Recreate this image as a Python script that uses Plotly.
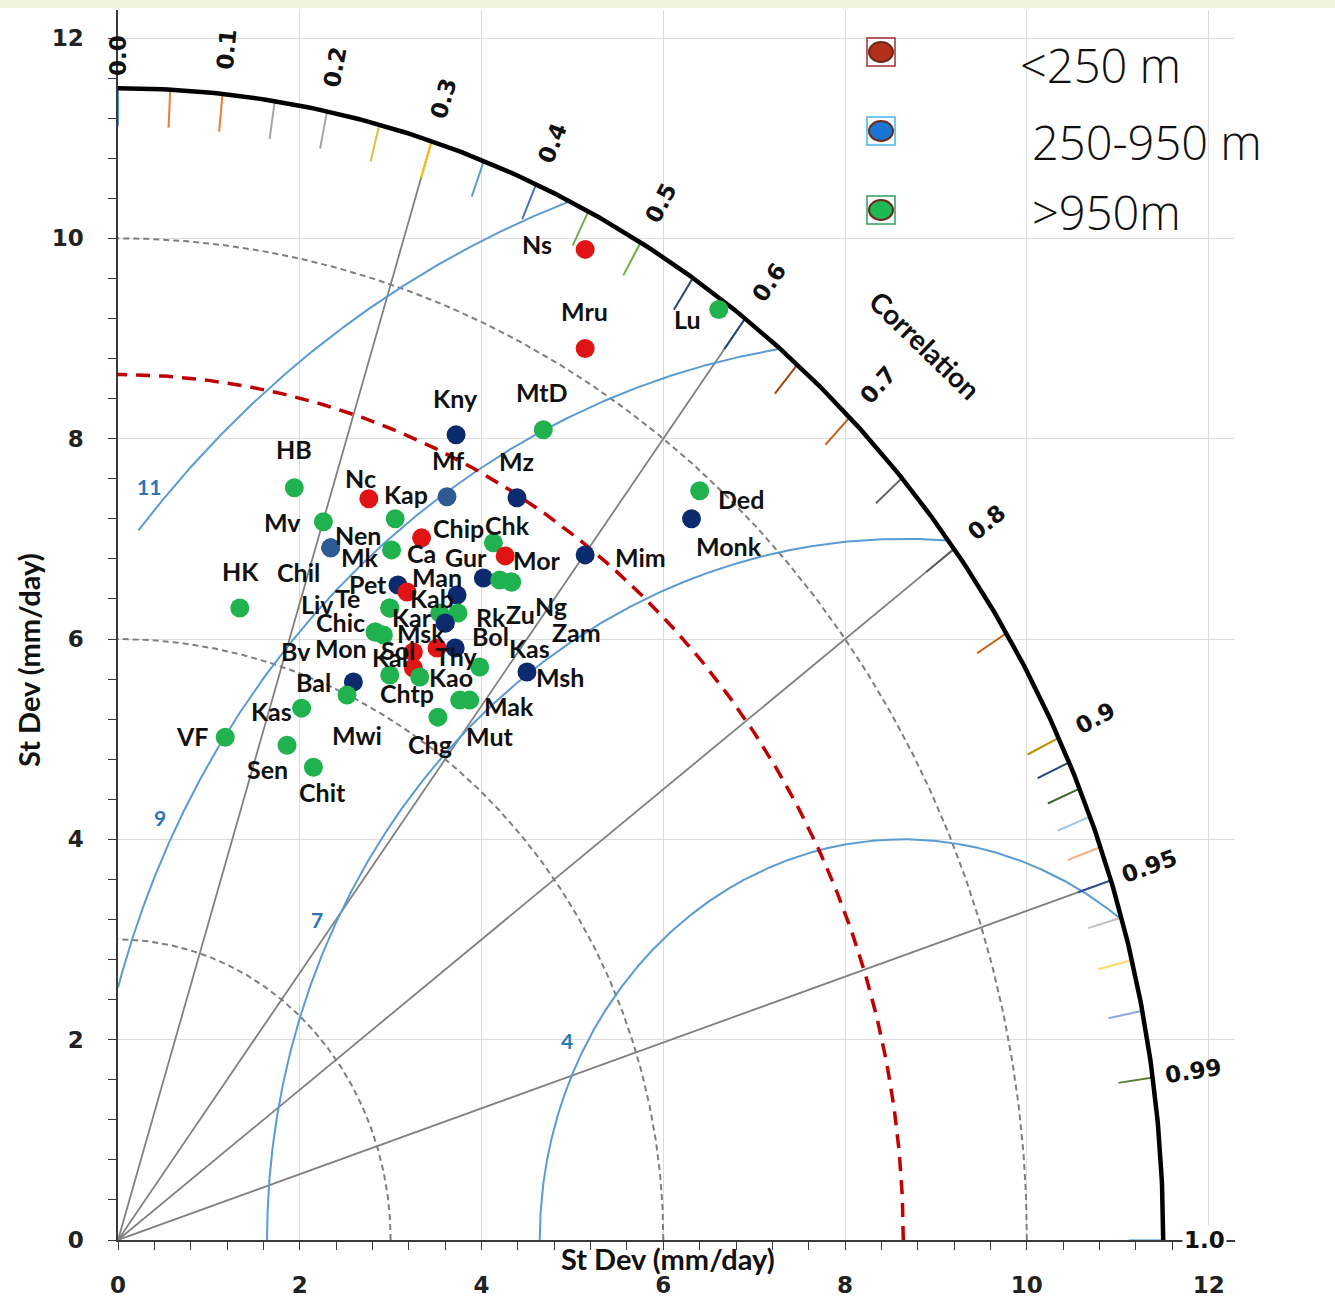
import numpy as np
import plotly.graph_objects as go

# ---------------- data ----------------
stations = ["Chil", "Liv", "Bv", "Msk", "Zam", "Ns", "Mru", "Lu", "Kny", "MtD", "HB", "Mf", "Mz", "Nc",
            "Kap", "Ded", "Monk", "Mv", "Nen", "Chk", "Chip", "Mk", "Mim", "Gur", "Zu", "Ng", "Mor",
            "HK", "Pet", "Ca", "Man", "Te", "Kab", "Rk", "Kar", "Chic", "Mon", "Bol", "Thy", "Sol",
            "Kal", "Chtp", "Kao", "Kas", "Msh", "Bal", "Mwi", "Kas", "Mut", "Mak", "Chg", "VF", "Sen", "Chit"]
# standard deviation components (mm/day): x = sd*corr, y = sd*sqrt(1-corr^2)
sd_x = [2.34, 2.99, 2.83, 3.60, 4.33, 5.14, 5.14, 6.61, 3.72, 4.68, 1.94, 3.62, 4.39, 2.76,
        3.05, 6.40, 6.31, 2.26, 2.34, 4.13, 3.34, 3.01, 5.14, 4.02, 4.20, 4.33, 4.26,
        1.34, 3.08, 3.18, 3.73, 2.99, 3.54, 3.74, 3.60, 2.83, 2.92, 3.71, 3.51, 3.25,
        3.25, 2.99, 3.32, 3.98, 4.50, 2.59, 2.52, 2.02, 3.76, 3.87, 3.52, 1.18, 1.86, 2.15]
sd_y = [6.91, 6.31, 6.07, 6.16, 6.57, 9.89, 8.90, 9.29, 8.04, 8.09, 7.51, 7.42, 7.41, 7.40,
        7.20, 7.48, 7.20, 7.17, 6.91, 6.96, 7.01, 6.89, 6.84, 6.61, 6.59, 6.57, 6.83,
        6.31, 6.54, 6.47, 6.44, 6.31, 6.26, 6.26, 6.16, 6.07, 6.04, 5.91, 5.91, 5.87,
        5.71, 5.64, 5.62, 5.72, 5.67, 5.57, 5.44, 5.31, 5.39, 5.39, 5.22, 5.02, 4.94, 4.72]
# elevation class: L = <250 m, M = 250-950 m, M2 = 250-950 m (lighter shade), H = >950 m
elev_class = ["M2", "H", "H", "M", "H", "L", "L", "H", "M", "H", "H", "M2", "M", "L",
              "H", "H", "M", "H", "M2", "H", "L", "H", "M", "M", "H", "H", "L",
              "H", "M", "L", "M", "H", "H", "H", "M", "H", "H", "M", "L", "L",
              "L", "H", "H", "H", "M", "M", "H", "H", "H", "H", "H", "H", "H", "H"]

ref_sd = 8.64                      # reference (observed) standard deviation
max_sd = 11.5                      # outer correlation arc
rms_levels = [4, 7, 9, 11]         # centred RMS difference contours
sd_arcs = [3, 6, 10]               # dashed std-dev arcs
corr_rays = [0.3, 0.6, 0.8, 0.95]
corr_labels = [0.0, 0.1, 0.2, 0.3, 0.4, 0.5, 0.6, 0.7, 0.8, 0.9, 0.95, 0.99, 1.0]
corr_ticks = [0.0, 0.05, 0.1, 0.15, 0.2, 0.25, 0.3, 0.35, 0.4, 0.45, 0.5, 0.55, 0.6, 0.65, 0.7,
              0.75, 0.8, 0.85, 0.9, 0.91, 0.92, 0.93, 0.94, 0.95, 0.96, 0.97, 0.98, 0.99, 1.0]
legend_labels = ["<250 m", "250-950 m", ">950m"]

# ---------------- styles ----------------
class_color = {"L": "#E01414", "M": "#0C2A6E", "M2": "#2E5B93", "H": "#1FB24F"}
label_dx = [-32, -72, -79, -24, 65, -48, -1, -31, -1, -1, 0, 1, 0, -8,
            11, 41, 37, -41, 27, 14, 37, -32, 55, -17, 21, 39, 32,
            1, -30, 14, -20, -42, -8, 33, -33, -35, -42, 35, 19, -15,
            -23, 17, 31, 50, 33, -40, 10, -30, 30, 39, -8, -33, -20, 9]
label_dy = [24, -4, 19, 10, 50, -5, -38, 10, -37, -38, -39, -37, -37, -21,
            -25, 8, 27, 0, -13, -18, -10, 7, 2, -21, 34, 24, 4,
            -37, -1, -39, -18, -10, -15, 4, -6, -10, 13, -12, 8, -2,
            -11, 18, 0, -19, 5, 0, 40, 3, 36, 6, 27, -1, 24, 25]
tick_colors = ["#5B9BD5", "#ED7D31", "#ED7D31", "#A5A5A5", "#A5A5A5", "#E0C040", "#FFC000",
               "#5B9BD5", "#4472C4", "#70AD47", "#70AD47", "#264478", "#264478", "#9E480E",
               "#C55A11", "#636363", "#636363", "#C55A11", "#BF9000", "#264478", "#43682B",
               "#9DC3E6", "#F4B183", "#2F5597", "#BFBFBF", "#FFD966", "#8FAADC", "#548235",
               "#9DC3E6"]

XMAX, YMAX = 12.29, 12.28
L_M, R_M, T_M, B_M = 118, 100, 10, 61
W, H = 1335, 1301
PW, PH = W - L_M - R_M, H - T_M - B_M
px_x = PW / XMAX
px_y = PH / YMAX

fig = go.Figure()


def line(x, y, color, width, dash="solid"):
    fig.add_trace(go.Scatter(x=x, y=y, mode="lines", hoverinfo="skip", showlegend=False,
                             line=dict(color=color, width=width, dash=dash)))


# correlation rays
for c in corr_rays:
    s = np.sqrt(1 - c * c)
    line([0, max_sd * c], [0, max_sd * s], "#808080", 1.8)

# dashed std-dev arcs
t = np.linspace(0, np.pi / 2, 300)
for r in sd_arcs:
    line(r * np.cos(t), r * np.sin(t), "#7F7F7F", 2, "6px,4px")

# RMS contours
for R in rms_levels:
    tt = np.linspace(0, np.pi, 3000)
    x = ref_sd + R * np.cos(tt)
    y = R * np.sin(tt)
    xmin = 0.22 if R == 11 else 0.0
    m = (x >= xmin) & (y >= 0) & (x * x + y * y <= max_sd ** 2)
    line(x[m], y[m], "#5B9BD5", 2)

# coloured correlation ticks
for c, col in zip(corr_ticks, tick_colors):
    s = np.sqrt(1 - c * c)
    line([11.12 * c, max_sd * c], [11.12 * s, max_sd * s], col, 2)

# outer arc
line(max_sd * np.cos(t), max_sd * np.sin(t), "#000000", 4.5)

# reference arc
line(ref_sd * np.cos(t), ref_sd * np.sin(t), "#C00000", 3.5, "14px,9px")

# stations
fig.add_trace(go.Scatter(
    x=sd_x, y=sd_y, mode="markers", showlegend=False, text=stations,
    marker=dict(size=19, color=[class_color[c] for c in elev_class], line=dict(width=0)),
    hovertemplate="%{text}<extra></extra>"))

ann = []
for name, x, y, dx, dy in zip(stations, sd_x, sd_y, label_dx, label_dy):
    ann.append(dict(x=x, y=y, xref="x", yref="y", text=name, showarrow=False,
                    xshift=dx, yshift=-dy,
                    font=dict(family="Lato", size=25, color="#111111", weight="bold")))

# correlation labels
for c in corr_labels:
    s = np.sqrt(1 - c * c)
    ang = np.degrees(np.arctan2(s * px_y, c * px_x))
    txt = f"{c:.2f}" if c in (0.95, 0.99) else f"{c:.1f}"
    rr = 11.82 if c == 0.0 else 11.95
    ann.append(dict(x=rr * c, y=rr * s, xref="x", yref="y", text=txt, showarrow=False,
                    textangle=-ang, bgcolor="white" if c == 1.0 else "rgba(0,0,0,0)",
                    font=dict(family="DejaVu Sans", size=23, color="#111111", weight="bold")))

# "Correlation" title
cc = 0.705
ann.append(dict(x=12.6 * cc, y=12.6 * np.sqrt(1 - cc * cc), xref="x", yref="y", text="Correlation",
                showarrow=False, textangle=44,
                font=dict(family="Lato", size=28, color="#111111", weight="bold")))

# RMS labels
rms_label_angle = {4: 151.7, 7: 153.6, 9: 152.7, 11: 137.8}
for R in rms_levels:
    a = np.radians(rms_label_angle[R])
    ann.append(dict(x=ref_sd + (R + 0.2) * np.cos(a), y=(R + 0.2) * np.sin(a), xref="x", yref="y",
                    text=str(R), showarrow=False,
                    font=dict(family="Lato", size=21, color="#2E75B6", weight="bold")))

# Reference label
ann.append(dict(x=ref_sd - 0.07, y=-0.05, xref="x", yref="y", text="Reference", showarrow=False,
                textangle=48, font=dict(family="Lato", size=22, color="#C00000", weight="bold")))

# axis titles
ann.append(dict(x=(668 - L_M) / PW, y=(H - B_M - 1258) / PH, xref="paper", yref="paper",
                xanchor="center", yanchor="middle", text="St Dev (mm/day)",
                showarrow=False, font=dict(family="Lato", size=29, color="#111111", weight="bold")))
ann.append(dict(x=(28 - L_M) / PW, y=(H - B_M - 660) / PH, xref="paper", yref="paper",
                xanchor="center", yanchor="middle", text="St Dev (mm/day)",
                showarrow=False, textangle=-90,
                font=dict(family="Lato", size=29, color="#111111", weight="bold")))

# legend (manual)
leg_fill = ["#B3301A", "#1976D2", "#1DB954"]
leg_box = ["#A03030", "#41B6E6", "#2EA060"]
leg_y_px = [52, 131, 210]
leg_text_y_px = [65, 142, 212]
leg_text_x_px = [1018, 1030, 1030]
shapes = []
for lab, f, b, yp, tyy, txx in zip(legend_labels, leg_fill, leg_box, leg_y_px, leg_text_y_px, leg_text_x_px):
    xa = (881 - L_M) / PW
    ya = (H - B_M - yp) / PH
    shapes.append(dict(type="rect", xref="paper", yref="paper", xsizemode="pixel", ysizemode="pixel",
                       xanchor=xa, yanchor=ya, x0=-14, x1=14, y0=-14, y1=14,
                       line=dict(color=b, width=1.5), fillcolor="rgba(0,0,0,0)"))
    shapes.append(dict(type="circle", xref="paper", yref="paper", xsizemode="pixel", ysizemode="pixel",
                       xanchor=xa, yanchor=ya, x0=-12, x1=12, y0=-10, y1=10,
                       line=dict(color="#6B2A1A", width=2), fillcolor=f))
    ann.append(dict(x=(txx - L_M) / PW, y=(H - B_M - tyy) / PH,
                    xref="paper", yref="paper", xanchor="left", yanchor="middle", text=lab,
                    showarrow=False,
                    font=dict(family="Open Sans", size=47, color="#111111", weight=300)))

# top strip of the original frame
shapes.append(dict(type="rect", xref="paper", yref="paper", x0=-0.2, x1=1.2,
                   y0=1 + 2 / PH, y1=1 + 12 / PH,
                   line=dict(width=0), fillcolor="#EEF2DF", layer="below"))

axis_common = dict(tick0=0, dtick=2, showgrid=True, gridcolor="#DCDCDC", gridwidth=1,
                   zeroline=False, showline=True, linecolor="#3A3A3A", linewidth=1.5,
                   ticks="outside", ticklen=8, tickcolor="#3A3A3A", tickwidth=1.2,
                   automargin=False,
                   minor=dict(dtick=0.4, ticks="outside", ticklen=8, tickcolor="#3A3A3A",
                              showgrid=False),
                   tickfont=dict(family="DejaVu Sans", size=23, color="#222222", weight="bold"))

fig.update_layout(
    width=W, height=H, margin=dict(l=L_M, r=R_M, t=T_M, b=B_M, autoexpand=False),
    paper_bgcolor="white", plot_bgcolor="white",
    annotations=ann, shapes=shapes, showlegend=False,
    xaxis=dict(range=[0, XMAX], ticklabelstandoff=16, **axis_common),
    yaxis=dict(range=[0, YMAX], ticklabelstandoff=20, **axis_common),
)

fig.write_html("out.html", config={"displayModeBar": False},
               post_script="document.body.style.margin='0px';")
